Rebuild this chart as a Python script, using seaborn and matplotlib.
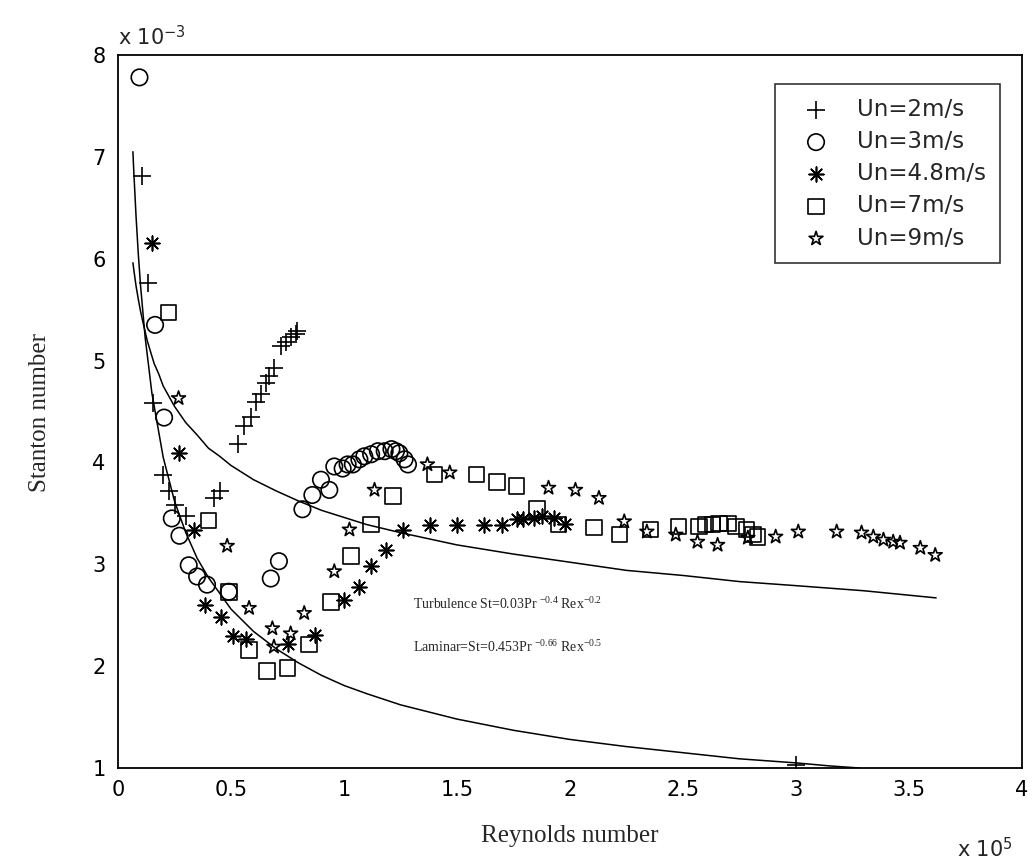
import matplotlib
matplotlib.use("Agg")
import matplotlib.pyplot as plt
import seaborn as sns

# ---------------- data (x in 1e5, y in 1e-3) ----------------
un2_x = [0.105, 0.132, 0.154, 0.200, 0.224, 0.253, 0.302, 0.424, 0.453, 0.530, 0.557,
         0.587, 0.609, 0.631, 0.653, 0.668, 0.690, 0.720, 0.742, 0.764, 0.787, 0.794, 3.00]
un2_y = [6.81, 5.76, 4.58, 3.88, 3.72, 3.58, 3.47, 3.65, 3.72, 4.18, 4.36,
         4.45, 4.59, 4.67, 4.78, 4.85, 4.93, 5.14, 5.18, 5.23, 5.26, 5.29, 1.03]

un3_x = [0.095, 0.164, 0.204, 0.238, 0.272, 0.313, 0.350, 0.394, 0.490, 0.676, 0.712,
         0.816, 0.860, 0.898, 0.935, 0.957, 0.994, 1.016, 1.039, 1.068, 1.090, 1.120,
         1.150, 1.180, 1.210, 1.230, 1.245, 1.268, 1.283]
un3_y = [7.78, 5.35, 4.44, 3.45, 3.28, 2.99, 2.88, 2.80, 2.73, 2.86, 3.03,
         3.54, 3.68, 3.83, 3.73, 3.96, 3.94, 3.98, 3.98, 4.03, 4.06, 4.08,
         4.11, 4.11, 4.13, 4.11, 4.09, 4.03, 3.98]

un48_x = [0.150, 0.268, 0.335, 0.385, 0.455, 0.507, 0.567, 0.750, 0.872, 1.000, 1.068,
          1.120, 1.187, 1.260, 1.380, 1.500, 1.620, 1.700, 1.764, 1.790, 1.840, 1.876,
          1.930, 1.980]
un48_y = [6.15, 4.09, 3.34, 2.60, 2.48, 2.30, 2.27, 2.22, 2.31, 2.65, 2.78,
          2.98, 3.14, 3.34, 3.39, 3.39, 3.39, 3.39, 3.44, 3.44, 3.45, 3.47,
          3.45, 3.40]

un7_x = [0.224, 0.400, 0.490, 0.579, 0.660, 0.750, 0.846, 0.942, 1.030, 1.120, 1.216,
         1.400, 1.587, 1.676, 1.764, 1.853, 1.950, 2.105, 2.220, 2.357, 2.480, 2.570,
         2.600, 2.630, 2.660, 2.700, 2.734, 2.780, 2.810, 2.830]
un7_y = [5.47, 3.43, 2.73, 2.16, 1.95, 1.98, 2.21, 2.63, 3.08, 3.39, 3.67,
         3.88, 3.88, 3.81, 3.77, 3.54, 3.39, 3.36, 3.29, 3.34, 3.37, 3.37,
         3.39, 3.39, 3.40, 3.40, 3.37, 3.34, 3.29, 3.27]

un9_x = [0.268, 0.483, 0.580, 0.683, 0.690, 0.764, 0.824, 0.957, 1.024, 1.135, 1.369,
         1.468, 1.905, 2.024, 2.128, 2.240, 2.340, 2.468, 2.564, 2.653, 2.787, 2.910,
         3.010, 3.180, 3.290, 3.342, 3.387, 3.430, 3.460, 3.550, 3.616]
un9_y = [4.63, 3.18, 2.57, 2.37, 2.19, 2.32, 2.52, 2.93, 3.34, 3.73, 3.98,
         3.90, 3.75, 3.73, 3.65, 3.42, 3.32, 3.29, 3.22, 3.19, 3.26, 3.27,
         3.32, 3.32, 3.31, 3.27, 3.24, 3.22, 3.21, 3.16, 3.09]

# correlation curves
turb_x = [0.066, 0.07, 0.08, 0.09, 0.10, 0.11, 0.13, 0.16, 0.18, 0.20, 0.25, 0.30, 0.35,
          0.40, 0.45, 0.50, 0.60, 0.70, 0.80, 0.90, 1.00, 1.10, 1.25, 1.50, 1.75, 2.00,
          2.25, 2.50, 2.75, 3.00, 3.30, 3.62]
turb_y = [5.96, 5.89, 5.73, 5.60, 5.48, 5.38, 5.19, 4.97, 4.87, 4.75, 4.55, 4.39, 4.27,
          4.14, 4.06, 3.97, 3.83, 3.72, 3.62, 3.53, 3.46, 3.39, 3.31, 3.19, 3.10, 3.02,
          2.94, 2.89, 2.83, 2.79, 2.74, 2.67]
lam_x = [0.066, 0.07, 0.08, 0.09, 0.10, 0.12, 0.15, 0.20, 0.25, 0.30, 0.35, 0.40, 0.50,
         0.60, 0.70, 0.80, 0.90, 1.00, 1.10, 1.25, 1.50, 1.75, 2.00, 2.25, 2.50, 2.75,
         3.00, 3.15, 3.28]
lam_y = [7.05, 6.85, 6.41, 6.04, 5.73, 5.23, 4.68, 4.05, 3.62, 3.31, 3.06, 2.87, 2.56,
         2.34, 2.17, 2.03, 1.91, 1.81, 1.73, 1.62, 1.48, 1.37, 1.28, 1.21, 1.15, 1.09,
         1.05, 1.02, 1.00]

labels = ["Un=2m/s", "Un=3m/s", "Un=4.8m/s", "Un=7m/s", "Un=9m/s"]
x_ticks = [0, 0.5, 1, 1.5, 2, 2.5, 3, 3.5, 4]
x_ticklabels = ["0", "0.5", "1", "1.5", "2", "2.5", "3", "3.5", "4"]
y_ticks = [1, 2, 3, 4, 5, 6, 7, 8]

# ---------------- style ----------------
sns.set_theme(style="white")
plt.rcParams["font.family"] = ["DejaVu Sans"]
plt.rcParams["mathtext.fontset"] = "custom"
plt.rcParams["mathtext.rm"] = "Liberation Serif"
plt.rcParams["mathtext.it"] = "Liberation Serif"

fig = plt.figure(figsize=(10.36, 8.63), dpi=100)
fig.patch.set_facecolor("white")
ax = fig.add_axes([0.1139, 0.1101, 0.8726, 0.8262])

# curves
sns.lineplot(x=turb_x, y=turb_y, ax=ax, color="black", lw=1.1, sort=False,
             estimator=None, legend=False)
sns.lineplot(x=lam_x, y=lam_y, ax=ax, color="black", lw=1.1, sort=False,
             estimator=None, legend=False)

ew = 1.2
sns.scatterplot(x=un2_x, y=un2_y, ax=ax, marker="+", s=150, color="black",
                linewidth=ew, label=labels[0])
sns.scatterplot(x=un3_x, y=un3_y, ax=ax, marker="o", s=140, facecolor="none",
                edgecolor="black", linewidth=ew, label=labels[1])
sns.scatterplot(x=un48_x, y=un48_y, ax=ax, marker=(8, 2, 0), s=110, color="black",
                linewidth=ew, label=labels[2])
sns.scatterplot(x=un7_x, y=un7_y, ax=ax, marker="s", s=125, facecolor="none",
                edgecolor="black", linewidth=ew, label=labels[3])
sns.scatterplot(x=un9_x, y=un9_y, ax=ax, marker="*", s=110, facecolor="none",
                edgecolor="black", linewidth=ew, label=labels[4])

ax.set_xlim(0, 4)
ax.set_ylim(1, 8)
ax.set_xticks(x_ticks)
ax.set_xticklabels(x_ticklabels)
ax.set_yticks(y_ticks)
ax.tick_params(direction="in", length=7, width=1.2, labelsize=15, colors="black",
               top=False, right=False)
ax.tick_params(axis="x", pad=9)
ax.tick_params(axis="y", pad=9)
for sp in ax.spines.values():
    sp.set_visible(True)
    sp.set_color("black")
    sp.set_linewidth(1.3)
ax.set_xlabel("")
ax.set_ylabel("")

leg = ax.legend(loc="upper right", bbox_to_anchor=(0.9757, 0.959), frameon=True,
                fancybox=False, fontsize=16.5, labelspacing=0.4, handlelength=2.4,
                handletextpad=0.6, borderpad=0.6, borderaxespad=0)
leg.get_frame().set_edgecolor("black")
leg.get_frame().set_linewidth(1.2)

# labels
fig.text(570 / 1036, 1 - 836 / 863, "Reynolds number", ha="center", va="center",
         fontsize=18, family="Liberation Serif")
fig.text(40 / 1036, 1 - 412 / 863, "Stanton number", ha="center", va="center",
         fontsize=18, family="Liberation Serif", rotation=90)
fig.text(118 / 1036, 1 - 36 / 863, r"x 10$^{\mathsf{-3}}$", ha="left", va="center",
         fontsize=15)
fig.text(957 / 1036, 1 - 848 / 863, r"x 10$^{\mathsf{5}}$", ha="left", va="center",
         fontsize=15)

fig.text(413 / 1036, 1 - 604 / 863, r"Turbulence St=0.03Pr $^{\mathrm{-0.4}}$ Rex$^{\mathrm{-0.2}}$",
         ha="left", va="center", fontsize=10, family="Liberation Serif")
fig.text(413 / 1036, 1 - 647 / 863, r"Laminar=St=0.453Pr $^{\mathrm{-0.66}}$ Rex$^{\mathrm{-0.5}}$",
         ha="left", va="center", fontsize=10, family="Liberation Serif")

fig.savefig("out.png", dpi=100, facecolor="white")
